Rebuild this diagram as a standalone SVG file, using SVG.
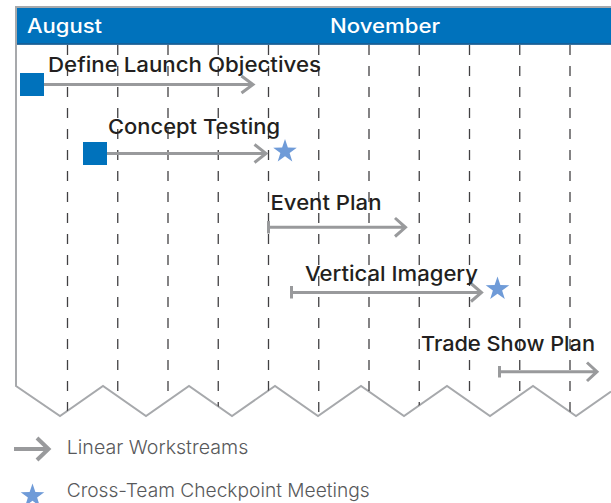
<svg xmlns="http://www.w3.org/2000/svg" width="611" height="503" viewBox="0 0 611 503">
<style>
.lbl{font-family:Inter,"DejaVu Sans",sans-serif;font-weight:500;font-size:20.5px;fill:#231f20}
.hdr{font-family:Inter,"DejaVu Sans",sans-serif;font-weight:500;font-size:19.5px;fill:#ffffff}
.leg{font-family:Inter,"DejaVu Sans",sans-serif;font-weight:300;font-size:19px;fill:#58595b}
.ln{fill:none;stroke:#999a9c;stroke-width:3}
.dash{stroke:#414042;stroke-width:1.3;stroke-dasharray:10 11}
.sq{fill:#0072bc}
.star{fill:#6f9bd8}
</style>
<defs>
<clipPath id="frameClip">
<polygon points="16,45 611,45 611,391.6 576,416 533,386 490,416 447,386 404,416 361,386 318,416 275,386 232,416 189,386 146,416 103,386 60,416 16,386"/>
</clipPath>
<polygon id="starShape" points="0,-12.4 2.86,-3.94 11.79,-3.83 4.63,1.50 7.29,10.03 0,4.87 -7.29,10.03 -4.63,1.50 -11.79,-3.83 -2.86,-3.94"/>
</defs>
<g id="frame">
<rect x="16.5" y="7.5" width="594.5" height="37" fill="#0072bc"/>
<line x1="16" y1="44" x2="611" y2="44" stroke="#1d5b8e" stroke-width="1.6"/>
<polyline fill="none" stroke="#a7a9ac" stroke-width="2" points="611,7 16,7 16,386 60,416 103,386 146,416 189,386 232,416 275,386 318,416 361,386 404,416 447,386 490,416 533,386 576,416 611,391.6"/>
<text class="hdr" x="27" y="33" textLength="75" lengthAdjust="spacingAndGlyphs">August</text>
<text class="hdr" x="330" y="33" textLength="110" lengthAdjust="spacingAndGlyphs">November</text>
</g>
<g id="grid" clip-path="url(#frameClip)">
<line class="dash" x1="67.5" y1="45" x2="67.5" y2="430"/>
<line class="dash" x1="117.75" y1="45" x2="117.75" y2="430"/>
<line class="dash" x1="168" y1="45" x2="168" y2="430"/>
<line class="dash" x1="218.25" y1="45" x2="218.25" y2="430"/>
<line class="dash" x1="268.5" y1="45" x2="268.5" y2="430"/>
<line class="dash" x1="318.75" y1="45" x2="318.75" y2="430"/>
<line class="dash" x1="369" y1="45" x2="369" y2="430"/>
<line class="dash" x1="419.25" y1="45" x2="419.25" y2="430"/>
<line class="dash" x1="469.5" y1="45" x2="469.5" y2="430"/>
<line class="dash" x1="519.75" y1="45" x2="519.75" y2="430"/>
<line class="dash" x1="570" y1="45" x2="570" y2="430"/>
</g>
<g id="connectors">
<path class="ln" d="M44,84.5 H253.5 M241.5,76 L253,84.5 L241.5,93"/>
<path class="ln" d="M107,153.5 H266 M254.5,144.5 L266,153.5 L254.5,162.5"/>
<path class="ln" d="M268.5,221 V233.5 M268.5,227.3 H405.5 M395,218 L405.5,227.3 L395,236.5"/>
<path class="ln" d="M291.5,286 V298.5 M291.5,292.5 H481.5 M471,283.5 L481.5,292.5 L471,301.5"/>
<path class="ln" d="M499.5,366 V377.5 M499.5,371.7 H597 M587,362.5 L597,371.7 L587,381"/>
</g>
<g id="node-define-launch-objectives">
<rect class="sq" x="20" y="73" width="24" height="23"/>
<text class="lbl" x="48" y="72" textLength="273" lengthAdjust="spacingAndGlyphs">Define Launch Objectives</text>
</g>
<g id="node-concept-testing">
<rect class="sq" x="83" y="142" width="24" height="23"/>
<text class="lbl" x="108" y="133.5" textLength="172" lengthAdjust="spacingAndGlyphs">Concept Testing</text>
<use href="#starShape" class="star" x="285" y="151.5"/>
</g>
<g id="node-event-plan">
<text class="lbl" x="270.5" y="209.5" textLength="111" lengthAdjust="spacingAndGlyphs">Event Plan</text>
</g>
<g id="node-vertical-imagery">
<text class="lbl" x="305" y="281" textLength="173" lengthAdjust="spacingAndGlyphs">Vertical Imagery</text>
<use href="#starShape" class="star" x="497.5" y="289"/>
</g>
<g id="node-trade-show-plan">
<text class="lbl" x="421" y="351" textLength="174" lengthAdjust="spacingAndGlyphs">Trade Show Plan</text>
</g>
<g id="legend">
<path fill="none" stroke="#999a9c" stroke-width="4" d="M14,449 H48.5 M37,438 L48.5,449 L37,460"/>
<text class="leg" x="66.7" y="454.3" textLength="181.6" lengthAdjust="spacingAndGlyphs">Linear Workstreams</text>
<use href="#starShape" class="star" x="32.5" y="496"/>
<text class="leg" x="66.7" y="496.7" textLength="303" lengthAdjust="spacingAndGlyphs">Cross-Team Checkpoint Meetings</text>
</g>
</svg>
